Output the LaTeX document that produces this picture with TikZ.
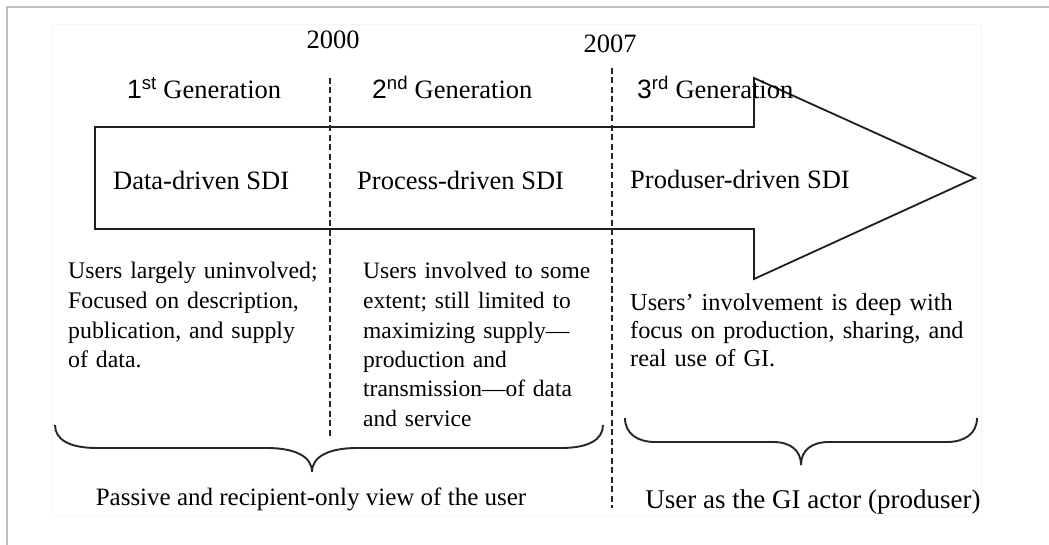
\documentclass[tikz,border=0pt]{standalone}
\usepackage{fontspec}
\setmainfont{Liberation Serif}
\newfontfamily\arialf{Liberation Sans}
\begin{document}
\begin{tikzpicture}[x=1pt,y=-1pt,
  outline/.style={draw=black!88, line width=1.8pt, line join=miter},
  divider/.style={draw=black!85, line width=1.4pt, dash pattern=on 6pt off 3.5pt},
  bracepath/.style={draw=black!85, line width=1.9pt},
  head/.style={inner sep=0pt, anchor=base, font=\fontsize{26.5}{30}\selectfont},
  sdi/.style={inner sep=0pt, anchor=base west, font=\fontsize{26.5}{30}\selectfont},
  body/.style={inner sep=0pt, anchor=base west, align=left, text width=#1},
  foot/.style={inner sep=0pt, anchor=base}
]
\useasboundingbox (0,0) rectangle (1049,545);
\fill[white] (0,0) rectangle (1049,545);
% faint inner frame of the embedded figure
\draw[black!4, line width=1pt] (52,25) rectangle (981,515);
% outer gray frame
\draw[black!25, line width=2pt] (7,545) -- (7,7) -- (1049,7);

% big arrow
\draw[outline] (95,127) -- (754,127) -- (754,78) -- (975,178) -- (754,279) -- (754,229) -- (95,229) -- cycle;

% dividers
\coordinate (d1top) at (330,78);
\coordinate (d1bot) at (330,438);
\coordinate (d2top) at (612,68);
\coordinate (d2bot) at (612,508);
\draw[divider] (d1top) -- (d1bot);
\draw[divider] (d2top) -- (d2bot);

% years
\node[head] (y2000) at (333,49) {2000};
\node[head] (y2007) at (610,53) {2007};

% generations
\node[sdi] (g1) at (127,99) {{\arialf 1\textsuperscript{st}} Generation};
\node[sdi] (g2) at (372,99) {{\arialf 2\textsuperscript{nd}} Generation};
\node[sdi] (g3) at (637,99) {{\arialf 3\textsuperscript{rd}} Generation};

% SDI labels
\node[sdi] (s1) at (113,190) {Data-driven SDI};
\node[sdi] (s2) at (357,190) {Process-driven SDI};
\node[sdi] (s3) at (630,189) {Produser-driven SDI};

% descriptions
\node[body=260pt, font=\fontsize{23.8}{29.5}\selectfont] (t1) at (68,279)
  {Users largely uninvolved;\\Focused on description,\\publication, and supply\\of data.};
\node[body=260pt, font=\fontsize{23.5}{29.5}\selectfont] (t2) at (363,279)
  {Users involved to some\\extent; still limited to\\maximizing supply---\\production and\\transmission---of data\\and service};
\node[body=360pt, font=\fontsize{24.3}{28}\selectfont] (t3) at (630,310)
  {Users' involvement is deep with\\focus on production, sharing, and\\real use of GI.};

% braces
\draw[bracepath] (55,425) .. controls (55,440) and (70,448) .. (97,448)
  -- (267,448) .. controls (292,448) and (312,455) .. (312,472)
  .. controls (312,455) and (332,448) .. (357,448)
  -- (561,448) .. controls (588,448) and (603,440) .. (603,425);
\draw[bracepath] (625,418) .. controls (625,434) and (638,442) .. (655,442)
  -- (773,442) .. controls (790,442) and (801,450) .. (801,465)
  .. controls (801,450) and (812,442) .. (829,442)
  -- (947,442) .. controls (964,442) and (977,434) .. (977,418);

% bottom labels
\node[foot, font=\fontsize{25}{30}\selectfont] (f1) at (311,505) {Passive and recipient-only view of the user};
\node[foot, font=\fontsize{27}{30}\selectfont] (f2) at (813,508) {User as the GI actor (produser)};
\end{tikzpicture}
\end{document}
